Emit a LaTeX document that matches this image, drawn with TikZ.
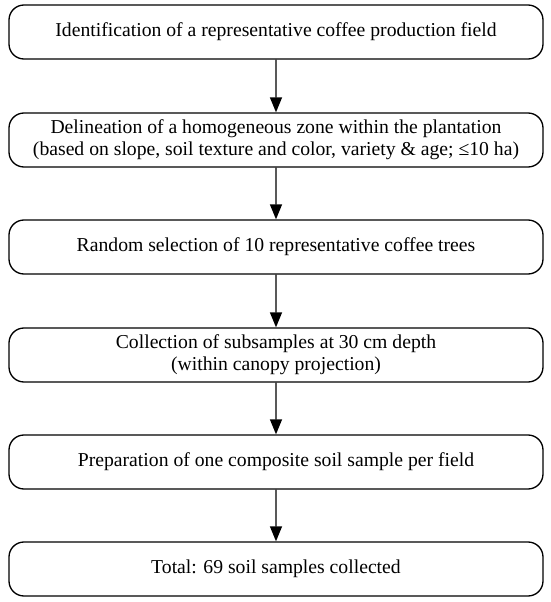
\documentclass[tikz,border=0pt]{standalone}
\usepackage{fontspec}
\setmainfont{Liberation Serif}
\usetikzlibrary{arrows.meta}
\begin{document}
\begin{tikzpicture}[scale=0.2]
\tikzstyle{every node}+=[inner sep=0pt]
\tikzstyle{stage}=[draw=black, line width=0.75pt, rounded corners=0.3cm, minimum width=10.68cm, minimum height=1.08cm, align=center, font=\fontsize{11.2}{12.5}\selectfont]
\tikzstyle{flow}=[black, line width=0.75pt, -{Triangle[length=8.5pt,width=6.8pt]}]
\useasboundingbox (0,0) rectangle (55,-60.2);
\draw (27.6,-3.2) node [stage] (field) {Identification of a representative coffee production field};
\draw (27.6,-14) node [stage] (zone) {Delineation of a homogeneous zone within the plantation\\(based on slope, soil texture and color, variety \& age; ≤10 ha)};
\draw (27.6,-24.7) node [stage] (trees) {Random selection of 10 representative coffee trees};
\draw (27.6,-35.5) node [stage] (subs) {Collection of subsamples at 30 cm depth\\(within canopy projection)};
\draw (27.6,-46.2) node [stage] (comp) {Preparation of one composite soil sample per field};
\draw (27.6,-56.9) node [stage] (total) {Total: 69 soil samples collected};
\draw [flow] (field) -- (zone);
\draw [flow] (zone) -- (trees);
\draw [flow] (trees) -- (subs);
\draw [flow] (subs) -- (comp);
\draw [flow] (comp) -- (total);
\end{tikzpicture}
\end{document}
